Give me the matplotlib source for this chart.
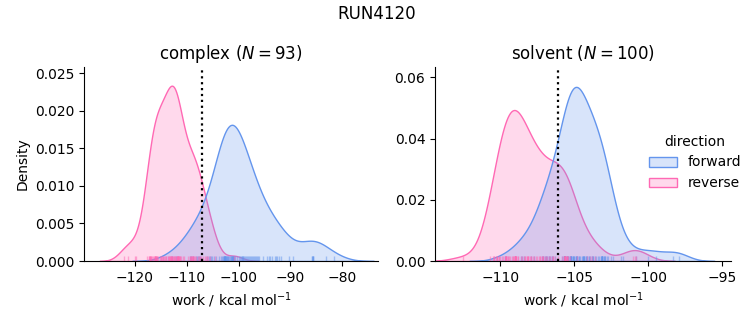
import pandas as pd
import seaborn as sns
import matplotlib.pyplot as plt

# work values in kcal/mol, one entry per switching trajectory
complex_forward = [
    -112.9, -112.1, -109.4, -109.1, -108.7, -108.3, -108.0, -107.9, -107.7, -107.4,
    -106.1, -105.7, -105.5, -105.3, -105.1, -104.8, -104.3, -103.7, -103.3, -103.1,
    -103.0, -102.9, -102.8, -102.8, -102.8, -102.7, -102.7, -102.7, -102.6, -102.6,
    -102.5, -102.4, -102.3, -102.2, -102.1, -102.0, -101.9, -101.7, -101.5, -101.4,
    -101.3, -101.2, -101.2, -101.1, -101.1, -101.1, -101.0, -100.9, -100.8, -100.6,
    -100.3, -100.0, -99.7, -99.5, -99.3, -99.3, -99.2, -99.1, -98.9, -98.8,
    -98.6, -98.4, -98.2, -98.0, -97.8, -97.6, -97.4, -97.2, -97.0, -96.8,
    -96.7, -96.5, -96.3, -96.1, -95.3, -94.6, -94.2, -93.9, -93.5, -93.0,
    -92.7, -92.5, -92.2, -91.9, -90.2, -89.4, -85.9, -85.8, -85.7, -85.7,
    -85.6, -83.2, -81.5]
complex_reverse = [
    -122.1, -121.3, -119.9, -119.8, -117.6, -117.3, -117.2, -117.1, -117.1, -117.0,
    -116.9, -116.9, -116.7, -116.5, -116.4, -116.2, -116.2, -116.1, -116.1, -116.0,
    -116.0, -115.9, -115.8, -115.7, -115.5, -115.2, -115.0, -114.9, -114.7, -114.6,
    -114.5, -114.3, -114.2, -114.0, -113.9, -113.7, -113.6, -113.5, -113.4, -113.3,
    -113.2, -113.1, -113.0, -113.0, -112.9, -112.8, -112.8, -112.7, -112.5, -112.4,
    -112.3, -112.2, -112.0, -111.9, -111.9, -111.8, -111.7, -111.7, -111.7, -111.6,
    -111.6, -111.5, -111.4, -111.3, -111.2, -111.1, -110.8, -110.5, -109.7, -109.4,
    -109.3, -109.2, -109.1, -109.0, -108.9, -108.8, -108.8, -108.7, -108.6, -108.4,
    -108.2, -107.9, -107.6, -107.5, -107.3, -106.9, -106.5, -106.2, -106.0, -105.8,
    -105.6, -104.6, -100.8]
solvent_forward = [
    -109.7, -108.6, -108.5, -108.4, -107.9, -107.7, -107.2, -107.1, -107.1, -107.0,
    -106.9, -106.9, -106.8, -106.7, -106.7, -106.6, -106.5, -106.5, -106.4, -106.3,
    -105.8, -105.7, -105.7, -105.7, -105.7, -105.6, -105.6, -105.6, -105.6, -105.5,
    -105.5, -105.4, -105.4, -105.3, -105.3, -105.3, -105.2, -105.2, -105.2, -105.2,
    -105.2, -105.1, -105.1, -105.1, -105.0, -105.0, -104.9, -104.9, -104.9, -104.8,
    -104.8, -104.8, -104.7, -104.7, -104.6, -104.5, -104.4, -104.4, -104.4, -104.3,
    -104.3, -104.3, -104.2, -104.2, -104.1, -104.1, -104.0, -104.0, -103.9, -103.8,
    -103.8, -103.7, -103.7, -103.6, -103.5, -103.4, -103.3, -103.2, -103.2, -103.1,
    -103.1, -103.1, -103.1, -103.1, -103.1, -103.0, -103.0, -102.9, -102.9, -102.8,
    -102.7, -102.5, -102.4, -101.8, -101.7, -100.8, -100.0, -99.5, -98.3, -97.9]
solvent_reverse = [
    -112.5, -110.7, -110.5, -110.4, -110.4, -110.3, -110.2, -110.2, -110.2, -110.1,
    -110.1, -110.0, -109.9, -109.8, -109.7, -109.7, -109.6, -109.6, -109.6, -109.6,
    -109.6, -109.6, -109.5, -109.5, -109.4, -109.3, -109.2, -109.1, -109.1, -109.0,
    -109.0, -109.0, -109.0, -109.0, -109.0, -109.0, -109.0, -108.9, -108.9, -108.9,
    -108.8, -108.8, -108.6, -108.5, -108.4, -108.3, -108.3, -108.2, -108.2, -108.1,
    -108.1, -108.1, -108.0, -107.9, -107.9, -107.8, -107.7, -107.6, -107.5, -107.4,
    -107.3, -107.3, -107.2, -107.2, -107.1, -107.1, -107.0, -106.9, -106.8, -106.7,
    -106.6, -106.5, -106.4, -106.4, -106.3, -106.1, -105.8, -105.7, -105.7, -105.6,
    -105.6, -105.6, -105.6, -105.6, -105.6, -105.6, -105.5, -105.5, -105.5, -105.5,
    -105.4, -105.3, -104.8, -104.1, -103.9, -103.8, -103.6, -101.0, -100.9, -100.8]

phases = ["complex", "solvent"]
free_energy = [-107.0, -106.1]   # dotted vertical lines

rows = []
for phase, fwd, rev in [("complex", complex_forward, complex_reverse),
                        ("solvent", solvent_forward, solvent_reverse)]:
    rows += [(phase, "forward", w) for w in fwd]
    rows += [(phase, "reverse", w) for w in rev]
df = pd.DataFrame(rows, columns=["phase", "direction", "work"])

g = sns.displot(df, x="work", hue="direction", col="phase", kind="kde",
                fill=True, rug=True,
                palette={"forward": "cornflowerblue", "reverse": "hotpink"},
                rug_kws=dict(alpha=0.5),
                facet_kws=dict(sharex=False, sharey=False))

fig = g.figure
fig.set_size_inches(7.53, 3.25)
g.set_axis_labels("work / kcal mol$^{-1}$", "Density")

xlims = [(-129.8, -73.1), (-114.4, -94.4)]
ylims = [(0, 0.0258), (0, 0.0634)]
positions = [[0.1116, 0.1969, 0.3904, 0.5969], [0.5777, 0.1969, 0.3931, 0.5969]]
for ax, phase, dg, xl, yl, pos in zip(g.axes.flat, phases, free_energy, xlims, ylims, positions):
    n = (df.phase == phase).sum() // 2
    ax.axvline(dg, color="k", ls=":", lw=1.6)
    ax.set_title(f"{phase} ($N = {n}$)", fontsize=12)
    ax.set_xlim(xl)
    ax.set_ylim(yl)
    ax.set_position(pos)

sns.move_legend(g, "center left", bbox_to_anchor=(0.845, 0.5), frameon=False)
fig.suptitle("RUN4120", fontsize=12, y=0.985)
fig.savefig("out.png", dpi=100)
